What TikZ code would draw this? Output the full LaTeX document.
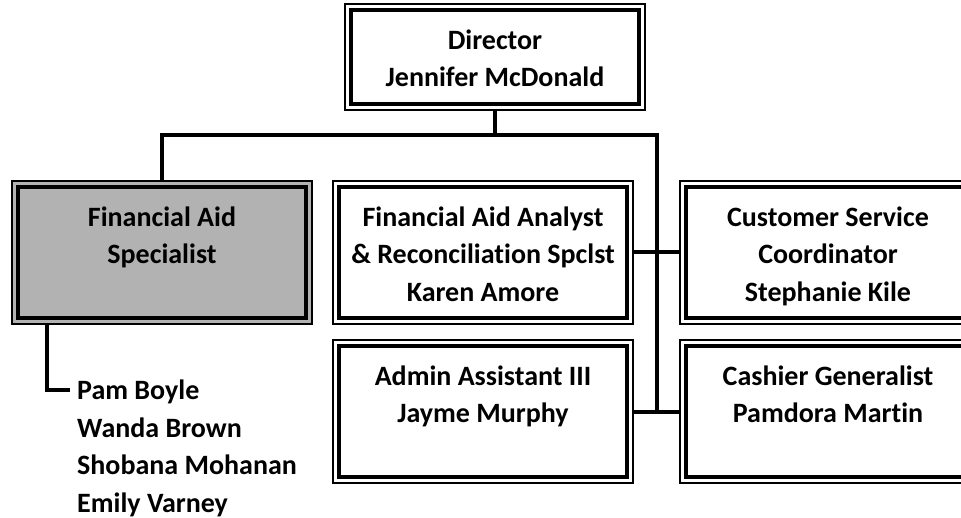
\documentclass[tikz,border=0pt]{standalone}
\usepackage{fontspec}
\setmainfont{Carlito}[Ligatures={NoCommon,NoContextual}]
\definecolor{specgray}{RGB}{178,178,178}
\begin{document}
\begin{tikzpicture}[x=1pt,y=1pt,
  box/.style={draw, line width=1.2pt, minimum width=300pt, minimum height=143pt, inner sep=0pt, fill=white},
  innerline/.style={line width=3.6pt},
  lbl/.style={font=\bfseries\fontsize{28}{37.5}\selectfont, align=center, inner sep=0pt, anchor=north},
  member/.style={font=\bfseries\fontsize{28}{37.5}\selectfont, inner sep=0pt, anchor=base west},
  conn/.style={line width=4pt}]
\clip (0,0) rectangle (961,-518);
% boxes
\node[box, minimum height=106pt] (dir) at (495,-57) {};
\node[box, fill=specgray] (spec) at (162,-252.5) {};
\node[box] (ana) at (483,-252.5) {};
\node[box] (adm) at (483,-411.5) {};
\node[box, minimum width=296pt] (cust) at (828,-252.5) {};
\node[box, minimum width=296pt] (cash) at (828,-411.5) {};
\foreach \n in {dir,spec,ana,adm,cust,cash}
  \draw[innerline] ([shift={(6.6pt,-6.6pt)}]\n.north west) rectangle ([shift={(-6.6pt,6.6pt)}]\n.south east);
% texts
\node[lbl] (dirt) at ([yshift=-19.5pt]dir.north) {\strut Director\\Jennifer McDonald};
\node[lbl] (spect) at ([yshift=-19.5pt]spec.north) {\strut Financial Aid\\Specialist};
\node[lbl] (anat) at ([yshift=-19.5pt]ana.north) {\strut Financial Aid Analyst\\\& Reconciliation Spclst\\Karen Amore};
\node[lbl] (admt) at ([yshift=-19.5pt]adm.north) {\strut Admin Assistant III\\Jayme Murphy};
\node[lbl] (custt) at ([yshift=-19.5pt]cust.north) {\strut Customer Service\\Coordinator\\Stephanie Kile};
\node[lbl] (casht) at ([yshift=-19.5pt]cash.north) {\strut Cashier Generalist\\Pamdora Martin};
% members
\node[member] (pam) at (77,-399.5) {Pam Boyle};
\node[member] (wanda) at (77,-437) {Wanda Brown};
\node[member] (shobana) at (77,-474.5) {Shobana Mohanan};
\node[member] (emily) at (77,-512) {Emily Varney};
% connectors
\coordinate (hub) at (657,-135);
\draw[conn] (dir.south) -- (dir.south |- hub);
\draw[conn] (spec.north) |- (hub) -- (hub |- adm.east);
\draw[conn] (ana.east) -- (cust.west);
\draw[conn] (adm.east) -- (cash.west);
\draw[conn] ([xshift=36pt]spec.south west) |- ([xshift=-7pt,yshift=9pt]pam.base west);
\end{tikzpicture}
\end{document}
